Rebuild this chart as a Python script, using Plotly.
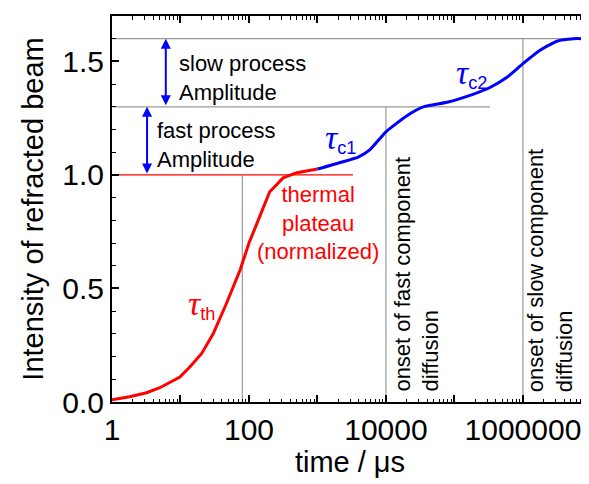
import plotly.graph_objects as go
import numpy as np

# --- data ---
t_thermal = [1, 1.8, 3.2, 5, 9.8, 13.8, 20.4, 30, 47, 74, 100, 200, 315, 500, 1000]
I_thermal = [0.01, 0.023, 0.041, 0.063, 0.11, 0.155, 0.214, 0.30, 0.435, 0.58, 0.70, 0.925, 0.987, 1.01, 1.026]

t_diff = [1000, 2300, 4000, 5800, 10000, 20000, 35000, 78000, 186000, 330000, 585000, 1e6, 1.8e6, 3.2e6, 5.4e6, 8.9e6]
I_diff = [1.026, 1.057, 1.08, 1.11, 1.19, 1.26, 1.30, 1.32, 1.355, 1.385, 1.43, 1.49, 1.55, 1.59, 1.60, 1.60]

hline_levels = [1.0, 1.3, 1.6]
hline_ends = [3300, 330000, 8.9e6]
hline_colors = ["#ff0000", "#999999", "#999999"]

vline_times = [80, 1e4, 1e6]
vline_tops = [1.0, 1.3, 1.6]

x_tickvals = [1, 10, 100, 1000, 10000, 100000, 1000000]
x_ticktext = ["1", "", "100", "", "10000", "", "1000000"]
y_tickvals = [0.0, 0.5, 1.0, 1.5]
y_ticktext = ["0.0", "0.5", "1.0", "1.5"]

FONT = "Liberation Sans, Arial, sans-serif"

fig = go.Figure()

# reference lines
for lvl, end, col in zip(hline_levels, hline_ends, hline_colors):
    fig.add_trace(go.Scatter(x=[1, end], y=[lvl, lvl], mode="lines",
                             line=dict(color=col, width=1.2), showlegend=False, hoverinfo="skip"))
for tv, top in zip(vline_times, vline_tops):
    fig.add_trace(go.Scatter(x=[tv, tv], y=[0, top], mode="lines",
                             line=dict(color="#999999", width=1.2), showlegend=False, hoverinfo="skip"))

# curves
fig.add_trace(go.Scatter(x=t_thermal, y=I_thermal, mode="lines",
                         line=dict(color="#ff0000", width=3), showlegend=False))
fig.add_trace(go.Scatter(x=t_diff, y=I_diff, mode="lines",
                         line=dict(color="#0000ff", width=3, shape="spline", smoothing=0.5), showlegend=False))

lg = np.log10

anns = []
# amplitude arrows
anns.append(dict(x=lg(6.1), y=1.6, ax=lg(6.1), ay=1.3, xref="x", yref="y", axref="x", ayref="y",
                 showarrow=True, arrowhead=2, startarrowhead=2, arrowside="end+start",
                 arrowsize=1, arrowwidth=2, arrowcolor="#0000ff", text=""))
anns.append(dict(x=lg(3.25), y=1.3, ax=lg(3.25), ay=1.0, xref="x", yref="y", axref="x", ayref="y",
                 showarrow=True, arrowhead=2, startarrowhead=2, arrowside="end+start",
                 arrowsize=1, arrowwidth=2, arrowcolor="#0000ff", text=""))

txt_font = dict(family=FONT, size=22, color="black")
anns.append(dict(x=lg(8.9), y=1.427, xref="x", yref="y", text="slow process<br>Amplitude",
                 showarrow=False, xanchor="left", yanchor="middle", align="left", font=txt_font))
anns.append(dict(x=lg(4.25), y=1.134, xref="x", yref="y", text="fast process<br>Amplitude",
                 showarrow=False, xanchor="left", yanchor="middle", align="left", font=txt_font))
anns.append(dict(x=lg(2.75e4), y=0.035, xref="x", yref="y", text="onset of fast component<br>diffusion",
                 showarrow=False, xanchor="center", yanchor="bottom", align="left", textangle=-90, font=txt_font))
anns.append(dict(x=lg(2.45e6), y=0.035, xref="x", yref="y", text="onset of slow component<br>diffusion",
                 showarrow=False, xanchor="center", yanchor="bottom", align="left", textangle=-90, font=txt_font))
anns.append(dict(x=lg(1016), y=0.789, xref="x", yref="y", text="thermal<br>plateau<br>(normalized)",
                 showarrow=False, xanchor="center", yanchor="middle", align="center",
                 font=dict(family=FONT, size=22, color="#ff0000")))

tau = "<span style='font-family:Liberation Serif;font-size:34px'><i>τ</i></span>"
anns.append(dict(x=lg(20.6), y=0.43, xref="x", yref="y", text=tau + "<sub>th</sub>",
                 showarrow=False, xanchor="center", yanchor="middle",
                 font=dict(family=FONT, size=26, color="#ff0000")))
anns.append(dict(x=lg(2150), y=1.16, xref="x", yref="y", text=tau + "<sub>c1</sub>",
                 showarrow=False, xanchor="center", yanchor="middle",
                 font=dict(family=FONT, size=26, color="#0000ff")))
anns.append(dict(x=lg(1.75e5), y=1.445, xref="x", yref="y", text=tau + "<sub>c2</sub>",
                 showarrow=False, xanchor="center", yanchor="middle",
                 font=dict(family=FONT, size=26, color="#0000ff")))

minor_x = [d * m for d in [1, 10, 100, 1000, 10000, 100000, 1000000] for m in range(2, 10)]

# page body has an 8px margin, so the figure is offset by 8px
fig.update_layout(
    width=581, height=476,
    margin=dict(l=104, r=1, t=8, b=82),
    paper_bgcolor="white", plot_bgcolor="white",
    font=dict(family=FONT, size=30, color="black"),
    annotations=anns,
    showlegend=False,
    xaxis=dict(type="log", range=[0, 6.95], tickmode="array", tickvals=x_tickvals, ticktext=x_ticktext,
               ticks="inside", ticklen=7, tickwidth=1.5, tickcolor="black",
               showline=True, linecolor="black", linewidth=2, mirror="ticks",
               showgrid=False, zeroline=False, automargin=False,
               tickfont=dict(family=FONT, size=30),
               minor=dict(tickmode="array", tickvals=minor_x, ticks="inside", ticklen=3.5,
                          tickwidth=1, tickcolor="black", showgrid=False),
               title=dict(text="time / μs", font=dict(family=FONT, size=29), standoff=6)),
    yaxis=dict(range=[0, 1.7], tickmode="array", tickvals=y_tickvals, ticktext=y_ticktext,
               ticks="inside", ticklen=7, tickwidth=1.5, tickcolor="black",
               showline=True, linecolor="black", linewidth=2, mirror="ticks",
               showgrid=False, zeroline=False, automargin=False,
               tickfont=dict(family=FONT, size=30),
               minor=dict(dtick=0.1, ticks="inside", ticklen=3.5, tickwidth=1,
                          tickcolor="black", showgrid=False),
               title=dict(text="Intensity of refracted beam", font=dict(family=FONT, size=29), standoff=10)),
)

fig.write_html("out.html")
